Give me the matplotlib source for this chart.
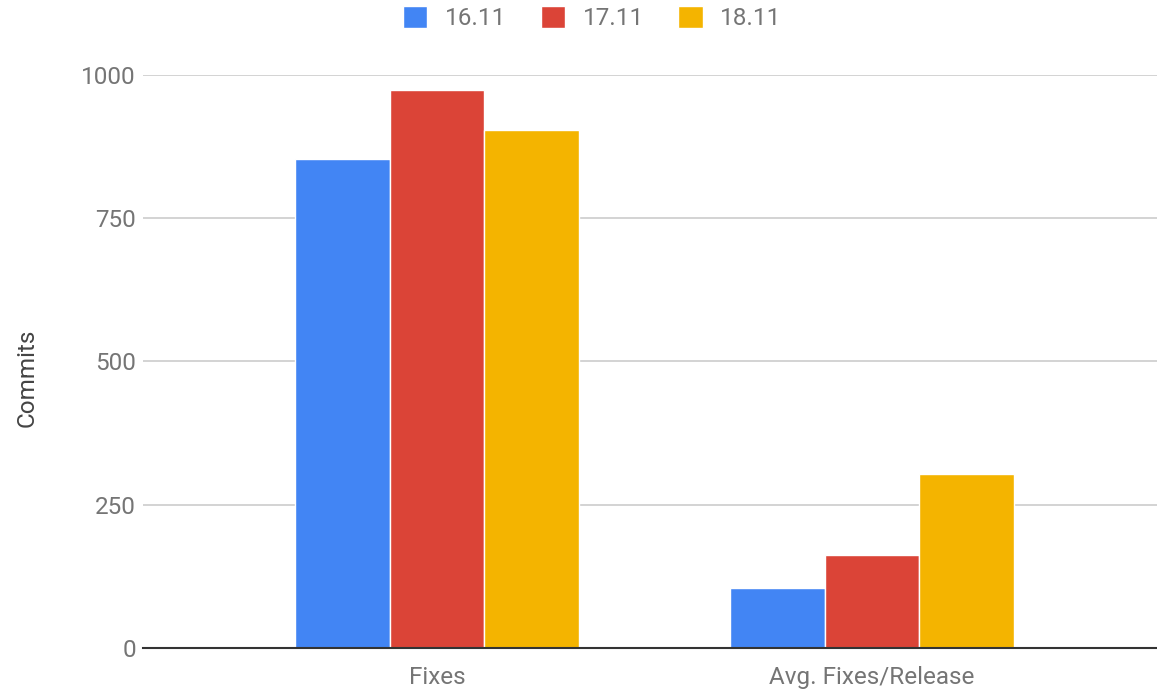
import numpy as np
import matplotlib
matplotlib.use("Agg")
import matplotlib.pyplot as plt

plt.rcParams["font.family"] = ["Roboto", "DejaVu Sans"]

CATEGORIES = ["Fixes", "Avg. Fixes/Release"]
RELEASES = ["16.11", "17.11", "18.11"]
COMMITS = {
    "16.11": [853, 105],
    "17.11": [973, 163],
    "18.11": [904, 303],
}
COLORS = {"16.11": "#4285f4", "17.11": "#db4437", "18.11": "#f4b400"}
YTICKS = [0, 250, 500, 750, 1000]
FS = 17.5

fig = plt.figure(figsize=(11.57, 6.94), dpi=100)
ax = fig.add_axes([143 / 1157, 46 / 694, 1 - 143 / 1157, (648 - 75) / 694])

x = np.arange(len(CATEGORIES))
w = 0.217
for i, rel in enumerate(RELEASES):
    ax.bar(x + (i - 1) * w, COMMITS[rel], w, color=COLORS[rel], label=rel,
           edgecolor="white", linewidth=1.0, zorder=3)

ax.set_xlim(-0.676, 1.655)
ax.set_ylim(0, 1000)
ax.set_yticks(YTICKS)
ax.set_yticklabels([str(v) for v in YTICKS])
ax.set_xticks(x)
ax.set_xticklabels(CATEGORIES)
ax.tick_params(axis="both", length=0, labelsize=FS, colors="#757575")
ax.tick_params(axis="y", pad=5)
ax.tick_params(axis="x", pad=13)
ax.grid(axis="y", color="#cccccc", linewidth=1.2, zorder=0)
for s in ["top", "right", "left"]:
    ax.spines[s].set_visible(False)
ax.spines["bottom"].set_color("#333333")
ax.spines["bottom"].set_linewidth(1.5)
ax.spines["bottom"].set_zorder(4)

ax.set_ylabel("Commits", fontsize=FS, color="#444444")
ax.yaxis.set_label_coords(-0.103, 0.471)

fig.legend(loc="upper center", bbox_to_anchor=(0.512, 1.012), ncol=3, frameon=False,
           fontsize=FS, labelcolor="#757575", handlelength=1.0, handleheight=1.0,
           handletextpad=0.72, columnspacing=1.42, borderaxespad=0.2)

fig.savefig("out.png", dpi=100)
